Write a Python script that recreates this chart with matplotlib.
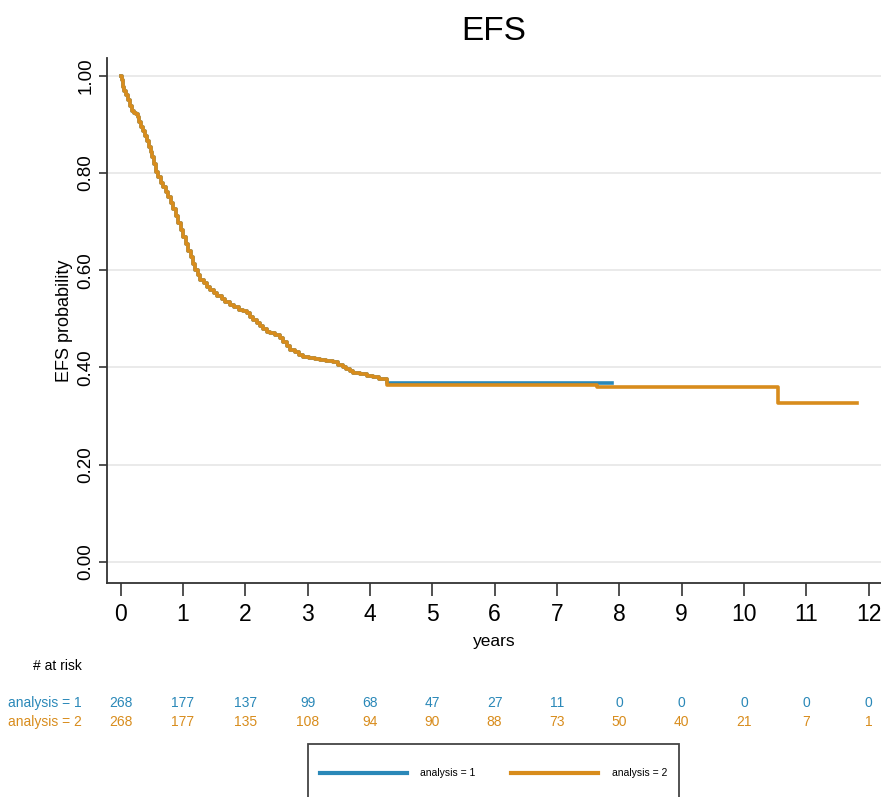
import numpy as np
import matplotlib
matplotlib.use("Agg")
import matplotlib.pyplot as plt
from matplotlib.lines import Line2D
from matplotlib.patches import Rectangle
from matplotlib.transforms import blended_transform_factory

# Curva de Kaplan-Meier (tramo común a ambos análisis)
t_comun = [0.00, 0.02, 0.04, 0.06, 0.09, 0.12, 0.15, 0.18, 0.21, 0.24, 0.27, 0.30,
           0.33, 0.36, 0.39, 0.42, 0.45, 0.48, 0.51, 0.54, 0.57, 0.60, 0.64, 0.68,
           0.72, 0.76, 0.80, 0.84, 0.88, 0.92, 0.96, 1.00, 1.04, 1.08, 1.12, 1.16,
           1.20, 1.24, 1.28, 1.33, 1.38, 1.43, 1.49, 1.55, 1.62, 1.68, 1.75, 1.82,
           1.90, 1.96, 2.02, 2.07, 2.12, 2.18, 2.23, 2.28, 2.34, 2.40, 2.48, 2.56,
           2.61, 2.67, 2.72, 2.79, 2.86, 2.93, 3.02, 3.11, 3.20, 3.30, 3.41, 3.49,
           3.57, 3.62, 3.68, 3.73, 3.84, 3.95, 4.05, 4.15]
s_comun = [1.000, 0.990, 0.976, 0.968, 0.960, 0.950, 0.938, 0.928, 0.922, 0.920,
           0.914, 0.905, 0.895, 0.885, 0.875, 0.865, 0.853, 0.843, 0.832, 0.818,
           0.802, 0.791, 0.780, 0.770, 0.760, 0.750, 0.738, 0.725, 0.711, 0.697,
           0.682, 0.668, 0.654, 0.640, 0.627, 0.613, 0.600, 0.589, 0.580, 0.573,
           0.566, 0.560, 0.552, 0.546, 0.540, 0.534, 0.528, 0.524, 0.519, 0.515,
           0.511, 0.503, 0.497, 0.491, 0.485, 0.479, 0.473, 0.470, 0.466, 0.460,
           0.452, 0.444, 0.436, 0.431, 0.426, 0.422, 0.419, 0.417, 0.415, 0.413,
           0.411, 0.406, 0.401, 0.396, 0.392, 0.388, 0.386, 0.383, 0.381, 0.376]

# Cola de cada análisis
t_cola_1 = [4.27, 7.88]
s_cola_1 = [0.369, 0.369]
t_cola_2 = [4.27, 7.65, 10.55, 11.82]
s_cola_2 = [0.364, 0.359, 0.327, 0.327]

# Tabla de pacientes en riesgo
tiempos_riesgo = list(range(13))
riesgo_1 = [268, 177, 137, 99, 68, 47, 27, 11, 0, 0, 0, 0, 0]
riesgo_2 = [268, 177, 135, 108, 94, 90, 88, 73, 50, 40, 21, 7, 1]

azul = '#2a88b8'
naranja = '#d88c1c'
fuente = ['Liberation Sans', 'DejaVu Sans']
plt.rcParams['font.family'] = fuente

W, H = 881, 797
fig = plt.figure(figsize=(W / 100, H / 100), dpi=100)
ax = fig.add_axes([107 / W, 1 - 583 / H, 1 - 107 / W, (583 - 58) / H])

ax.plot(t_comun + t_cola_1, s_comun + s_cola_1, drawstyle='steps-post',
        color=azul, lw=2.6)
ax.plot(t_comun + t_cola_2, s_comun + s_cola_2, drawstyle='steps-post',
        color=naranja, lw=2.6)

ax.set_xlim(-0.22, 12.2)
ax.set_ylim(-0.043, 1.036)
ax.set_xticks(range(13))
ax.set_yticks([0, 0.2, 0.4, 0.6, 0.8, 1.0])
ax.set_yticklabels([f"{v:.2f}" for v in [0, 0.2, 0.4, 0.6, 0.8, 1.0]],
                   rotation=90, va='center', fontsize=13.5)
ax.set_xticklabels([str(v) for v in range(13)], fontsize=16.5)
ax.tick_params(axis='x', length=9.5, width=1.2, pad=5, color='#333333')
ax.tick_params(axis='y', length=6, width=1.2, pad=3, color='#333333')
ax.grid(axis='y', color='#e8e8e8', lw=1.3)
ax.set_axisbelow(True)
for lado in ['top', 'right']:
    ax.spines[lado].set_visible(False)
for lado in ['left', 'bottom']:
    ax.spines[lado].set_color('#333333')
    ax.spines[lado].set_linewidth(1.3)

ax.set_ylabel("EFS probability", fontsize=13)
ax.yaxis.set_label_coords(-0.044, 0.5)
ax.set_xlabel("years", fontsize=12.5, va='baseline')
ax.xaxis.set_label_coords(0.5, -(646 - 583) / 525)
ax.set_title("EFS", fontsize=24, pad=13)

# Números en riesgo bajo el eje
trans = blended_transform_factory(ax.transData, fig.transFigure)
fig.text(82 / W, 1 - 670 / H, "# at risk", ha='right', va='baseline', fontsize=10)
fig.text(82 / W, 1 - 707 / H, "analysis = 1", ha='right', va='baseline',
         fontsize=10, color=azul)
fig.text(82 / W, 1 - 726 / H, "analysis = 2", ha='right', va='baseline',
         fontsize=10, color=naranja)
for t, n1, n2 in zip(tiempos_riesgo, riesgo_1, riesgo_2):
    ax.text(t, 1 - 707 / H, str(n1), transform=trans, ha='center',
            va='baseline', fontsize=10, color=azul)
    ax.text(t, 1 - 726 / H, str(n2), transform=trans, ha='center',
            va='baseline', fontsize=10, color=naranja)

# Leyenda
fig.patches.append(Rectangle((308 / W, -0.05), (679 - 308) / W, (797 - 744) / H + 0.05,
                             transform=fig.transFigure, fill=False,
                             edgecolor='#444444', lw=1.3))
y_ley = 1 - 773 / H
fig.lines.append(Line2D([320 / W, 407 / W], [y_ley, y_ley], transform=fig.transFigure,
                        color=azul, lw=3))
fig.lines.append(Line2D([511 / W, 598 / W], [y_ley, y_ley], transform=fig.transFigure,
                        color=naranja, lw=3))
fig.text(420 / W, y_ley, "analysis = 1", ha='left', va='center', fontsize=7.5)
fig.text(612 / W, y_ley, "analysis = 2", ha='left', va='center', fontsize=7.5)

fig.savefig("out.png", dpi=100)
